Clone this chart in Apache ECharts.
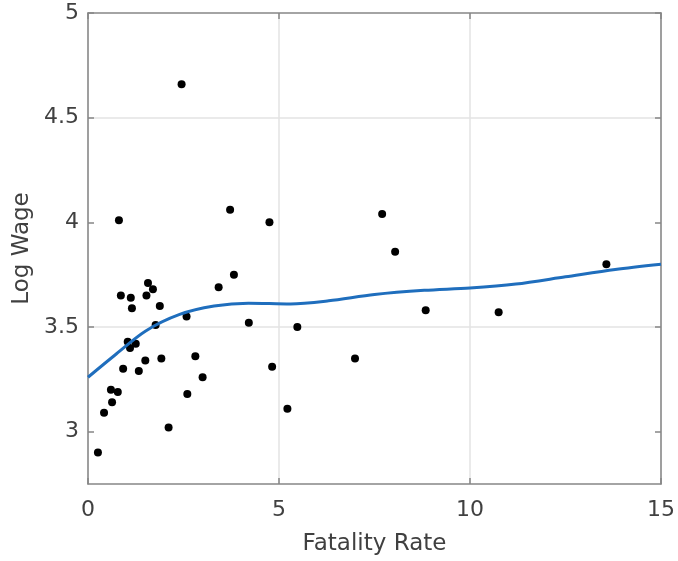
<!DOCTYPE html>
<html>
<head>
<meta charset="utf-8">
<script src="https://cdn.jsdelivr.net/npm/echarts@6/dist/echarts.min.js"></script>
<style>
  html, body { margin: 0; padding: 0; background: #fff; }
  #chart { width: 678px; height: 561px; }
</style>
</head>
<body>
<div id="chart"></div>
<script>
"use strict";
// observed points (fatality rate, log wage)
var fatalityRate = [0.26, 0.42, 0.60, 0.63, 0.78, 0.81, 0.86, 0.92, 1.04, 1.12, 1.15, 1.10, 1.25, 1.33,
    1.50, 1.53, 1.57, 1.70, 1.77, 1.88, 1.92, 2.11, 2.45, 2.58, 2.60, 2.81, 3.00, 3.42, 3.72, 3.82,
    4.21, 4.75, 4.82, 5.22, 5.48, 6.99, 7.70, 8.04, 8.84, 10.75, 13.57];
var logWage = [2.90, 3.09, 3.20, 3.14, 3.19, 4.01, 3.65, 3.30, 3.43, 3.64, 3.59, 3.40, 3.42, 3.29,
    3.34, 3.65, 3.71, 3.68, 3.51, 3.60, 3.35, 3.02, 4.66, 3.55, 3.18, 3.36, 3.26, 3.69, 4.06, 3.75,
    3.52, 4.00, 3.31, 3.11, 3.50, 3.35, 4.04, 3.86, 3.58, 3.57, 3.80];
// smoothed fit
var fitX = [0, 0.7, 1.5, 2.4, 3.3, 4.2, 5.3, 6.3, 7.5, 8.8, 10.0, 11.2, 12.5, 13.8, 15];
var fitY = [3.26, 3.365, 3.48, 3.56, 3.60, 3.614, 3.61, 3.625, 3.655, 3.675, 3.686, 3.705, 3.74, 3.775, 3.80];

var xTicks = [0, 5, 10, 15];
var yTicks = [3, 3.5, 4, 4.5, 5];

var frameColor = '#868686';
var textColor = '#404040';
var gridColor = '#e3e3e3';
var fontFamily = '"DejaVu Sans", sans-serif';

function zip(a, b) {
    var out = [];
    for (var i = 0; i < a.length; i++) out.push([a[i], b[i]]);
    return out;
}

function xAxisOpt(pos, showLabels) {
    return {
        type: 'value', position: pos, min: 0, max: 15, interval: 5,
        name: showLabels ? 'Fatality Rate' : '', nameLocation: 'middle', nameGap: 49,
        nameTextStyle: { color: textColor, fontSize: 23, fontFamily: fontFamily },
        axisLine: { show: true, onZero: false, lineStyle: { color: frameColor, width: 1.5 } },
        axisTick: { show: true, inside: true, length: 6, lineStyle: { color: frameColor, width: 1.5 } },
        axisLabel: { show: showLabels, color: textColor, fontSize: 22, margin: 15, fontFamily: fontFamily },
        splitLine: { show: showLabels, lineStyle: { color: gridColor, width: 1.5 } }
    };
}

function yAxisOpt(pos, showLabels) {
    return {
        type: 'value', position: pos, min: 2.75, max: 5, interval: 0.25,
        name: showLabels ? 'Log Wage' : '', nameLocation: 'middle', nameGap: 52,
        nameTextStyle: { color: textColor, fontSize: 23, fontFamily: fontFamily },
        axisLine: { show: true, onZero: false, lineStyle: { color: frameColor, width: 1.5 } },
        axisTick: { show: true, inside: true, length: 6, customValues: yTicks,
            lineStyle: { color: frameColor, width: 1.5 } },
        axisLabel: { show: showLabels, color: textColor, fontSize: 22, margin: 9, fontFamily: fontFamily,
            customValues: yTicks },
        splitLine: { show: showLabels, lineStyle: { color: ['transparent', gridColor], width: 1.5 } }
    };
}

var chart = echarts.init(document.getElementById('chart'));
chart.setOption({
    animation: false,
    backgroundColor: '#fff',
    grid: { left: 88, right: 15, top: 13, bottom: 76, containLabel: false },
    xAxis: [xAxisOpt('bottom', true), xAxisOpt('top', false)],
    yAxis: [yAxisOpt('left', true), yAxisOpt('right', false)],
    series: [
        {
            type: 'scatter', data: zip(fatalityRate, logWage),
            symbol: 'circle', symbolSize: 8,
            itemStyle: { color: '#000', opacity: 1 }
        },
        {
            type: 'line', data: zip(fitX, fitY), smooth: 0.3, showSymbol: false,
            lineStyle: { color: '#1f6ebd', width: 3 }, z: 3
        }
    ]
});
</script>
</body>
</html>
